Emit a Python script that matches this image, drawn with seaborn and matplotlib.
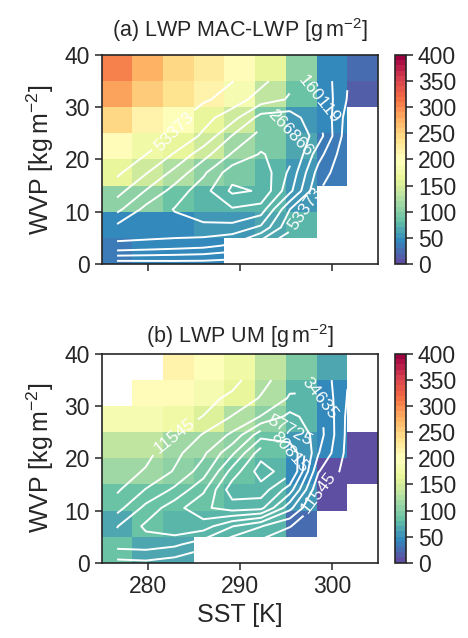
import numpy as np
import matplotlib
matplotlib.use("Agg")
import matplotlib.pyplot as plt
import seaborn as sns

nan = np.nan

# ---- bin edges of the 2-D histograms ----
sst_edges = [275.0, 278.33, 281.67, 285.0, 288.33, 291.67, 295.0, 298.33, 301.67, 305.0]
wvp_edges = [0, 5, 10, 15, 20, 25, 30, 35, 40]

# ---- mean LWP per bin [g m-2]; rows = WVP bins 0-5 ... 35-40 ----
lwp_mac = [
    [35, 45, 45, 45, nan, nan, nan, nan, nan],
    [48, 48, 48, 50, 52, 60, 72, nan, nan],
    [105, 100, 80, 70, 70, 70, 58, nan, nan],
    [165, 145, 125, 108, 90, 72, 55, 38, nan],
    [205, 175, 165, 145, 110, 90, 60, 35, nan],
    [240, 212, 195, 165, 140, 95, 52, 42, nan],
    [280, 255, 235, 210, 185, 130, 80, 45, 10],
    [305, 270, 240, 220, 200, 165, 100, 45, 25],
]
lwp_um = [
    [80, 66, 66, nan, nan, nan, nan, nan, nan],
    [68, 80, 79, 77, 75, 70, 20, nan, nan],
    [82, 84, 80, 80, 77, 74, 53, 8, nan],
    [112, 110, 104, 92, 86, 78, 48, 8, 5],
    [135, 133, 118, 110, 100, 82, 52, 42, 5],
    [180, 180, 178, 155, 128, 108, 70, 45, nan],
    [nan, 205, 202, 185, 160, 122, 72, 47, nan],
    [nan, nan, 210, 195, 175, 135, 90, 62, nan],
]

# ---- sample-count field for the contours (thousands of samples) ----
count_sst = [276.67, 279.79, 282.92, 286.04, 289.17, 292.29, 295.42, 298.54, 301.67]
count_wvp = [0, 3.5, 7, 10.5, 14, 17.5, 21, 24.5, 28, 31.5, 35]
count_mac_k = [
    [21.3, 24.0, 26.7, 26.7, 21.3, 8.0, 2.7, 1.1, 0.5],
    [208.2, 197.5, 186.8, 176.1, 149.4, 64.0, 16.0, 2.7, 1.1],
    [229.5, 245.5, 250.9, 256.2, 250.9, 202.8, 64.0, 8.0, 1.6],
    [144.1, 229.5, 269.5, 293.6, 314.9, 298.9, 108.0, 10.7, 2.7],
    [85.4, 162.8, 234.8, 298.9, 384.3, 368.3, 229.5, 56.0, 5.3],
    [42.7, 101.4, 176.1, 256.2, 352.3, 357.6, 256.2, 85.4, 8.0],
    [16.0, 52.3, 112.1, 192.1, 272.2, 325.6, 288.2, 128.1, 10.7],
    [10.7, 29.4, 58.7, 117.4, 216.2, 288.2, 272.2, 186.8, 21.3],
    [8.0, 18.7, 37.4, 85.4, 138.8, 234.8, 240.2, 170.8, 32.0],
    [6.4, 13.3, 26.7, 45.4, 74.7, 133.4, 165.5, 162.8, 50.7],
    [5.3, 10.7, 18.7, 34.7, 51.8, 90.7, 149.4, 152.1, 56.0],
]
count_um_k = [
    [19.6, 20.8, 17.3, 11.0, 5.8, 2.3, 0.6, 0.2, 0.1],
    [39.3, 40.4, 36.9, 27.7, 13.9, 6.9, 2.3, 0.6, 0.2],
    [34.1, 48.5, 55.4, 52.0, 35.2, 23.7, 12.1, 2.3, 0.6],
    [18.5, 38.1, 53.1, 67.0, 75.0, 72.7, 38.1, 4.6, 2.3],
    [9.8, 23.7, 36.9, 55.4, 87.7, 87.7, 63.5, 12.7, 3.5],
    [5.8, 12.7, 24.2, 40.4, 73.9, 98.1, 85.4, 23.7, 6.9],
    [3.5, 8.1, 19.6, 32.3, 55.4, 87.7, 82.0, 35.2, 8.1],
    [2.3, 5.8, 11.0, 24.2, 36.9, 64.7, 60.0, 40.4, 8.7],
    [1.4, 3.5, 6.9, 11.8, 23.7, 35.2, 49.6, 39.3, 9.2],
    [0.9, 2.1, 4.6, 8.1, 13.9, 24.2, 35.8, 35.8, 11.0],
    [0.6, 1.2, 2.9, 5.8, 8.1, 18.5, 31.2, 32.3, 12.1],
]
levels_mac = [53373, 106746, 160119, 213492, 266866, 320239, 373612]
levels_um = [11545, 23090, 34635, 46180, 57725, 69270, 80815, 92360]

titles = ["(a) LWP MAC-LWP [g$\\,$m$^{-2}$]", "(b) LWP UM [g$\\,$m$^{-2}$]"]
xticks = [280, 290, 300]
yticks = [0, 10, 20, 30, 40]
cbar_ticks = [0, 50, 100, 150, 200, 250, 300, 350, 400]

sns.set_theme(style="ticks")
plt.rcParams["font.family"] = ["Liberation Sans", "DejaVu Sans"]
plt.rcParams["mathtext.default"] = "regular"
dark = "#262626"
plt.rcParams.update({
    "axes.edgecolor": dark, "axes.linewidth": 1.2,
    "xtick.color": dark, "ytick.color": dark,
    "xtick.major.size": 5, "ytick.major.size": 5,
    "xtick.major.width": 1.1, "ytick.major.width": 1.1,
    "text.color": dark, "axes.labelcolor": dark,
})

cmap = plt.get_cmap("Spectral_r", 40)

fig = plt.figure(figsize=(4.68, 6.38), dpi=100)
ax_pos = [[0.2173, 0.5862, 0.5904, 0.3276], [0.2173, 0.1180, 0.5904, 0.3271]]
cax_pos = [[0.844, 0.5862, 0.0235, 0.3276], [0.844, 0.1180, 0.0235, 0.3271]]
pads = [13, 8]

for i, (lwp, cnt, lev) in enumerate([(lwp_mac, count_mac_k, levels_mac),
                                     (lwp_um, count_um_k, levels_um)]):
    ax = fig.add_axes(ax_pos[i])
    cax = fig.add_axes(cax_pos[i])
    mesh = ax.pcolormesh(sst_edges, wvp_edges, np.ma.masked_invalid(np.array(lwp, float)),
                         cmap=cmap, vmin=0, vmax=400)
    z = np.array(cnt) * 1000.0
    cs = ax.contour(count_sst, count_wvp, z, levels=lev, colors="white", linewidths=1.4)
    ax.clabel(cs, cs.levels[::2], inline=True, fmt="%d", fontsize=12.5, colors="white")
    ax.set_xlim(275, 305)
    ax.set_ylim(0, 40)
    ax.set_xticks(xticks)
    ax.set_yticks(yticks)
    ax.tick_params(labelsize=16.5)
    if i == 0:
        ax.set_xticklabels([])
    else:
        ax.set_xlabel("SST [K]", fontsize=18, labelpad=4)
    ax.set_ylabel("WVP [kg$\\,$m$^{-2}$]", fontsize=18, labelpad=6)
    ax.set_title(titles[i], fontsize=15.5, pad=pads[i])
    for s in ax.spines.values():
        s.set_visible(True)
    cb = fig.colorbar(mesh, cax=cax, ticks=cbar_ticks)
    cb.ax.tick_params(labelsize=16.5, length=5)
    cb.outline.set_edgecolor(dark)
    cb.outline.set_linewidth(1.2)

fig.savefig("out.png", dpi=100)
